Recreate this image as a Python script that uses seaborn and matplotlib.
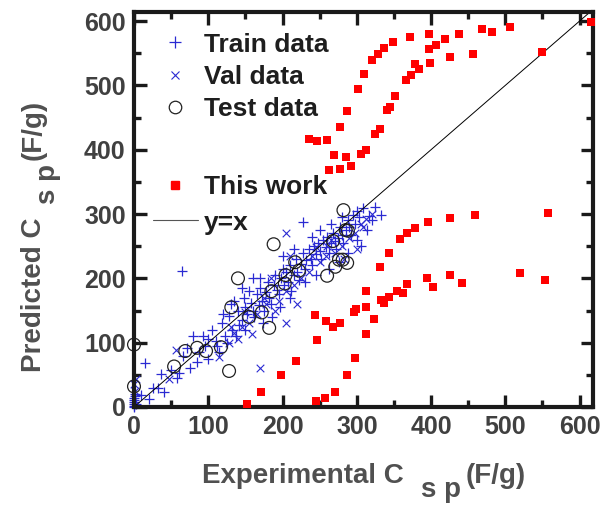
import matplotlib
matplotlib.use("Agg")
import matplotlib.pyplot as plt
import seaborn as sns
from matplotlib.ticker import MultipleLocator
from matplotlib.lines import Line2D

# ---------------- data ----------------
train_x = [0, 0, 0, 0, 0, 1, 2, 0, 3, 15, 32, 37, 41, 61, 64, 79, 93, 50, 66, 72, 88, 95, 100,
           105, 110, 115, 118, 122, 128, 132, 135, 140, 142, 145, 148, 150, 152, 155, 158, 160,
           162, 165, 168, 170, 172, 175, 178, 180, 182, 185, 188, 190, 192, 195, 198, 200, 202,
           205, 208, 210, 212, 215, 218, 220, 222, 225, 228, 230, 232, 235, 238, 240, 242, 245,
           248, 250, 252, 255, 258, 260, 262, 265, 268, 270, 272, 275, 278, 280, 282, 285, 288,
           290, 292, 295, 298, 300, 303, 308, 316, 325, 333, 227, 196, 210, 186, 174, 230, 245,
           262, 276, 288, 300, 306, 314, 320, 150, 125, 138, 112, 100, 85, 75, 58, 25, 20, 10,
           120, 130, 160, 145, 200, 170, 250, 240, 215, 265, 280]
train_y = [2, 5, 8, 11, 14, 17, 20, 0, 4, 69, 29, 52, 24, 53, 211, 110, 111, 58, 80, 92, 85, 95, 75,
           120, 102, 85, 130, 110, 142, 120, 165, 150, 128, 135, 170, 155, 145, 180, 162, 150,
           140, 175, 158, 185, 165, 150, 178, 195, 170, 160, 190, 205, 182, 175, 200, 215, 190,
           210, 195, 220, 180, 205, 230, 210, 198, 222, 240, 215, 228, 245, 230, 220, 250, 238,
           255, 242, 230, 260, 248, 265, 240, 255, 270, 258, 245, 262, 280, 268, 255, 275, 290,
           280, 268, 298, 285, 305, 295, 309, 297, 311, 298, 288, 155, 170, 140, 130, 195, 205,
           215, 225, 240, 260, 250, 275, 290, 120, 100, 110, 95, 105, 70, 60, 45, 30, 12, 18,
           145, 160, 200, 185, 235, 200, 275, 265, 245, 285, 295]

val_x = [3, 0, 1, 47, 57, 159, 170, 204, 204, 308, 115, 128, 135, 140, 150, 155, 165, 178, 185,
         195, 205, 215, 225, 235, 240, 250, 258, 265, 270, 280, 290, 298, 305, 312, 320, 283,
         300, 220, 190, 245, 175, 145, 130, 210, 260]
val_y = [43, 35, 25, 43, 89, 113, 60, 130, 271, 280, 78, 100, 115, 105, 148, 130, 145, 160, 200,
         165, 180, 190, 200, 210, 235, 225, 235, 260, 240, 250, 262, 270, 285, 292, 300, 230,
         245, 160, 150, 248, 170, 125, 125, 235, 250]

test_x = [282, 285, 288, 268, 188, 276, 281, 287, 271, 260, 217, 222, 204, 203, 140, 185, 131,
          155, 172, 182, 128, 117, 97, 85, 69, 54, 0, 0]
test_y = [306, 275, 274, 258, 253, 229, 229, 224, 218, 204, 225, 212, 205, 192, 200, 180, 155,
          140, 147, 123, 56, 93, 87, 92, 87, 63, 97, 32]

work_x = [152, 171, 198, 218, 247, 244, 259, 268, 277, 245, 257, 270, 287, 298, 312, 323, 296,
          299, 313, 313, 333, 336, 344, 354, 362, 368, 395, 403, 426, 441, 520, 554, 331, 343,
          358, 368, 379, 396, 425, 459, 557,
          236, 247, 260, 277, 287, 301, 309, 321, 328, 336, 349, 371, 397, 437, 469, 482, 506,
          615,
          263, 277, 269, 286, 292, 306, 312, 324, 331, 340, 345, 351, 366, 373, 379, 384, 397,
          399, 407, 419, 426, 457, 549]
work_y = [5, 23, 50, 72, 104, 143, 133, 124, 130, 10, 14, 24, 50, 76, 114, 137, 147, 152, 156,
          180, 167, 161, 171, 181, 177, 191, 200, 187, 205, 193, 208, 197, 217, 239, 261, 270,
          278, 287, 294, 298, 301,
          417, 413, 415, 435, 460, 495, 517, 539, 548, 558, 567, 575, 580, 580, 588, 583, 591,
          598,
          369, 370, 392, 388, 375, 394, 400, 424, 432, 462, 466, 483, 508, 516, 533, 525, 556,
          534, 563, 572, 544, 548, 552]

diag = [0, 640]
x_ticks = [0, 100, 200, 300, 400, 500, 600]
y_ticks = [0, 100, 200, 300, 400, 500, 600]

# ---------------- style ----------------
sns.set_theme(style="ticks")
plt.rcParams["font.family"] = ["Liberation Sans", "DejaVu Sans"]
plt.rcParams["font.weight"] = "bold"

BLUE = "#2a2ad2"
TICK_C = "#404040"
LAB_C = "#505050"

fig = plt.figure(figsize=(6.04, 5.05), dpi=100)
W, H = 604, 505
L, R, T, B = 134, 593, 12, 407
ax = fig.add_axes([L / W, 1 - B / H, (R - L) / W, (B - T) / H])

sns.lineplot(x=diag, y=diag, color="black", lw=0.7, ax=ax, legend=False)
sns.scatterplot(x=train_x, y=train_y, marker="+", color=BLUE, s=55, linewidth=0.9, ax=ax,
                legend=False, clip_on=False)
sns.scatterplot(x=val_x, y=val_y, marker="x", color=BLUE, s=30, linewidth=0.8, ax=ax,
                legend=False, clip_on=False)
sns.scatterplot(x=test_x, y=test_y, marker="o", color="black", facecolor="none",
                edgecolor="#222222", s=85, linewidth=0.9, ax=ax, legend=False, clip_on=False)
sns.scatterplot(x=work_x, y=work_y, marker="s", color="#ff0000", s=30, linewidth=0,
                ax=ax, legend=False, clip_on=False, zorder=3)

ax.set_xlim(0, 618)
ax.set_ylim(0, 614)
ax.set_xticks(x_ticks)
ax.set_yticks(y_ticks)
ax.xaxis.set_minor_locator(MultipleLocator(50))
ax.yaxis.set_minor_locator(MultipleLocator(50))
ax.tick_params(which="both", direction="in", top=True, right=True, width=2.4,
               color="#1a1a1a")
ax.tick_params(which="major", length=9, labelsize=18, labelcolor=TICK_C, pad=6)
ax.tick_params(which="minor", length=5)
for lab in ax.get_xticklabels() + ax.get_yticklabels():
    lab.set_fontweight("bold")
for sp in ax.spines.values():
    sp.set_linewidth(3)
    sp.set_color("#1a1a1a")
ax.set_xlabel("")
ax.set_ylabel("")

# ---------------- legends ----------------
h1 = [Line2D([], [], ls="", marker="+", color=BLUE, ms=8, mew=0.9),
      Line2D([], [], ls="", marker="x", color=BLUE, ms=6, mew=0.8),
      Line2D([], [], ls="", marker="o", mfc="none", mec="#222222", ms=9, mew=0.9)]
leg1 = ax.legend(h1, ["Train data", "Val data", "Test data"], loc="upper left",
                 bbox_to_anchor=(0.041, 0.948), frameon=False, borderpad=0,
                 borderaxespad=0, handlelength=1.7, handletextpad=0.25, labelspacing=0.32,
                 prop={"size": 19, "weight": "bold"}, labelcolor="#1e1e1e")
ax.add_artist(leg1)
h2 = [Line2D([], [], ls="", marker="s", color="#ff0000", ms=6),
      Line2D([], [], ls="-", color="#555555", lw=0.8)]
ax.legend(h2, ["This work", "y=x"], loc="upper left", bbox_to_anchor=(0.041, 0.588),
          frameon=False, borderpad=0, borderaxespad=0, handlelength=1.7,
          handletextpad=0.25, labelspacing=0.45, prop={"size": 19, "weight": "bold"},
          labelcolor="#1e1e1e")

# ---------------- axis labels with lowered "s p" ----------------
fig.canvas.draw()
rend = fig.canvas.get_renderer()
FS = 20
SUB = 14  # px shift of the "s p" part


def place(parts, rotation, anchor_px, along_center):
    texts = []
    total = 0
    for s, dy, gap in parts:
        t = fig.text(0, 0, s, fontsize=FS, fontweight="bold", color=LAB_C,
                     rotation=rotation, rotation_mode="anchor", ha="left", va="baseline")
        bb = t.get_window_extent(rend)
        size = bb.width if rotation == 0 else bb.height
        texts.append((t, size, dy, gap))
        total += size + gap
    pos = along_center - total / 2
    for t, size, dy, gap in texts:
        if rotation == 0:
            t.set_position((pos / W, (anchor_px - dy) / H))
        else:
            t.set_position(((anchor_px + dy) / W, pos / H))
        pos += size + gap


place([("Experimental C", 0, 18), ("s p", SUB, 4), ("(F/g)", 0, 0)], 0, H - 483,
      (L + R) / 2)
place([("Predicted C", 0, 14), ("s p", SUB, 4), ("(F/g)", 0, 0)], 90, 41, H - 236)

fig.savefig("out.png", dpi=100)
